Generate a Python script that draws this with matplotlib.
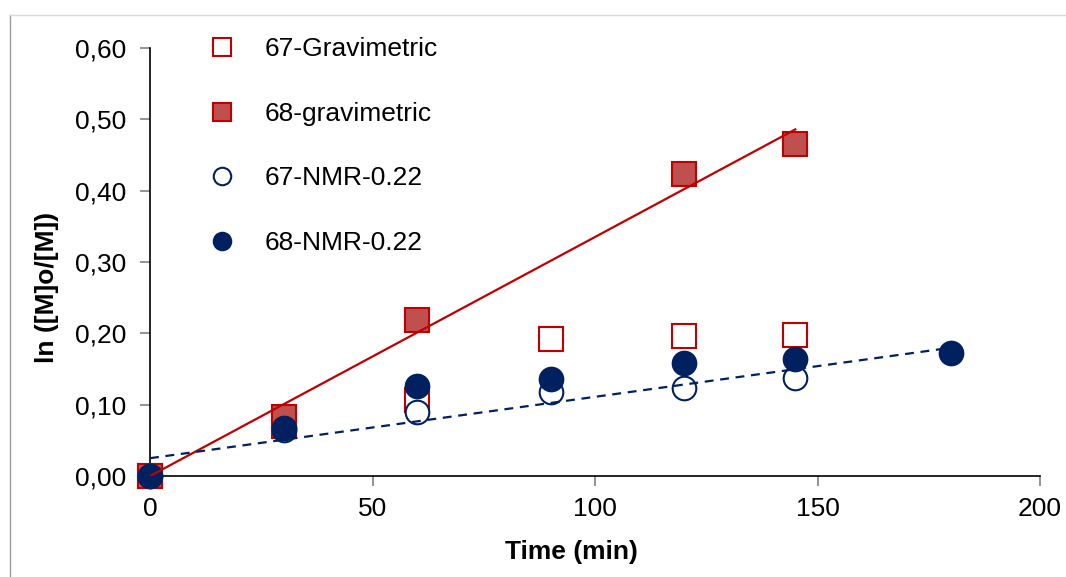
import numpy as np
import matplotlib
matplotlib.use('Agg')
import matplotlib.pyplot as plt
from matplotlib.lines import Line2D
from matplotlib.ticker import FuncFormatter

plt.rcParams['font.family'] = ['Liberation Sans', 'DejaVu Sans']

# ── Data ──────────────────────────────────────────────────────────────────────
t_grav = [0, 30, 60, 90, 120, 145]
grav_67 = [0.0, 0.070, 0.107, 0.192, 0.196, 0.198]

t_grav68 = [0, 30, 60, 120, 145]
grav_68 = [0.0, 0.083, 0.218, 0.423, 0.465]

t_nmr67 = [0, 30, 60, 90, 120, 145]
nmr_67 = [0.0, 0.065, 0.090, 0.118, 0.124, 0.138]

t_nmr68 = [0, 30, 60, 90, 120, 145, 180]
nmr_68 = [0.0, 0.067, 0.126, 0.136, 0.158, 0.164, 0.172]

# linear trend lines (slope, intercept, x range)
fit_grav68 = (0.00335, 0.0, (0, 145))
fit_nmr68 = (0.00086, 0.025, (0, 180))

RED = '#C00000'
RED_FILL = '#C0504D'
NAVY = '#002060'

# ── Plot ──────────────────────────────────────────────────────────────────────
fig = plt.figure(figsize=(10.66, 5.77), dpi=100)
ax = fig.add_axes([0.1407, 0.175, 0.835, 0.742])

ms = 17
ax.plot(t_grav, grav_67, 's', ms=ms, mfc='white', mec=RED, mew=1.5,
        clip_on=False, zorder=3, label='67-Gravimetric')
ax.plot(t_grav68, grav_68, 's', ms=ms, mfc=RED_FILL, mec=RED, mew=1.5,
        clip_on=False, zorder=3, label='68-gravimetric')
ax.plot(t_nmr67, nmr_67, 'o', ms=ms, mfc='white', mec=NAVY, mew=1.5,
        clip_on=False, zorder=3, label='67-NMR-0.22')
ax.plot(t_nmr68, nmr_68, 'o', ms=ms, mfc=NAVY, mec=NAVY, mew=1.5,
        clip_on=False, zorder=3, label='68-NMR-0.22')

for (k, b, (x0, x1)), col, ls in [(fit_grav68, RED, '-'), (fit_nmr68, NAVY, (0, (4, 3)))]:
    xs = np.array([x0, x1])
    ax.plot(xs, k * xs + b, color=col, lw=1.6, ls=ls, zorder=4)

ax.set_xlim(0, 200)
ax.set_ylim(0, 0.6)
ax.set_xticks(np.arange(0, 201, 50))
ax.set_yticks(np.arange(0, 0.61, 0.1))
ax.yaxis.set_major_formatter(FuncFormatter(lambda v, p: f'{v:.2f}'.replace('.', ',')))

for side in ('top', 'right'):
    ax.spines[side].set_visible(False)
for side in ('left', 'bottom'):
    ax.spines[side].set_linewidth(1.2)
ax.tick_params(direction='out', length=7, width=1.2, color='#808080',
               labelsize=19)
ax.tick_params(axis='y', pad=10)
ax.tick_params(axis='x', pad=8)

ax.set_xlabel('Time (min)', fontsize=19, fontweight='bold')
ax.set_ylabel('ln ([M]o/[M])', fontsize=19, fontweight='bold')
ax.xaxis.set_label_coords(0.473, -0.15)
ax.yaxis.set_label_coords(-0.102, 0.44)

ax.legend(loc='upper left', bbox_to_anchor=(0.0366, 1.08), frameon=False,
          fontsize=19, labelspacing=1.535, handlelength=1.2, handletextpad=1.0,
          markerscale=0.74)

# outer frame of the chart area
fig.add_artist(Line2D([10 / 1066, 10 / 1066], [0, 1 - 15 / 577],
                      transform=fig.transFigure, color='#9a9a9a', lw=1))
fig.add_artist(Line2D([10 / 1066, 1], [1 - 15 / 577, 1 - 15 / 577],
                      transform=fig.transFigure, color='#d9d9d9', lw=1))

fig.savefig('out.png', dpi=100)
